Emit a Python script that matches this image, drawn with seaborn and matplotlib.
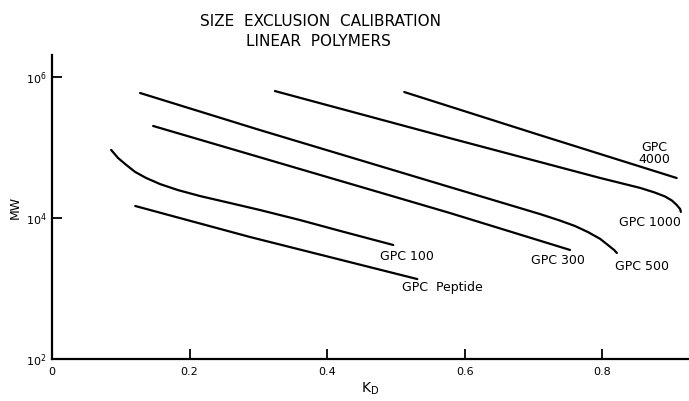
import numpy as np
import pandas as pd
import matplotlib
matplotlib.use('Agg')
import matplotlib.pyplot as plt
import seaborn as sns

# Calibration curves: K_D vs molecular weight
kd_4000 = [0.512, 0.709, 0.908]
mw_4000 = [6.12e5, 1.50e5, 3.69e4]

kd_1000 = [0.324, 0.578, 0.797, 0.855, 0.876, 0.891, 0.901, 0.908, 0.913, 0.914]
mw_1000 = [6.32e5, 1.36e5, 3.69e4, 2.67e4, 2.30e4, 2.02e4, 1.77e4, 1.53e4, 1.34e4, 1.22e4]

kd_500 = [0.128, 0.302, 0.578, 0.709, 0.738, 0.760, 0.779, 0.797, 0.808, 0.817, 0.821]
mw_500 = [5.93e5, 1.77e5, 2.75e4, 1.14e4, 9.22e3, 7.71e3, 6.32e3, 5.04e3, 4.14e3, 3.52e3, 3.19e3]

kd_300 = [0.147, 0.578, 0.753]
mw_300 = [2.02e5, 1.18e4, 3.52e3]

kd_100 = [0.086, 0.096, 0.108, 0.121, 0.137, 0.157, 0.183, 0.215, 0.259, 0.302,
          0.360, 0.419, 0.496]
mw_100 = [9.23e4, 7.10e4, 5.65e4, 4.49e4, 3.69e4, 3.03e4, 2.49e4, 2.05e4, 1.63e4,
          1.30e4, 9.38e3, 6.55e3, 4.14e3]

kd_pep = [0.121, 0.288, 0.531]
mw_pep = [1.48e4, 5.37e3, 1.36e3]

columns = ['GPC 4000', 'GPC 1000', 'GPC 500', 'GPC 300', 'GPC 100', 'GPC Peptide']
label_text = ['GPC\n4000', 'GPC 1000', 'GPC 500', 'GPC 300', 'GPC 100', 'GPC  Peptide']

x_ticks = [0, 0.2, 0.4, 0.6, 0.8]
x_tick_labels = ['0', '0.2', '0.4', '0.6', '0.8']
y_ticks = [1e2, 1e4, 1e6]

# build a long table for seaborn
series = [(kd_4000, mw_4000), (kd_1000, mw_1000), (kd_500, mw_500),
          (kd_300, mw_300), (kd_100, mw_100), (kd_pep, mw_pep)]
frames = []
for name, (kd, mw) in zip(columns, series):
    frames.append(pd.DataFrame({'KD': kd, 'MW': mw, 'column': name}))
df = pd.concat(frames, ignore_index=True)

sns.set_style('ticks')
plt.rcParams['font.family'] = ['DejaVu Sans']
plt.rcParams.update({'text.color': 'black', 'axes.labelcolor': 'black',
                     'xtick.color': 'black', 'ytick.color': 'black',
                     'axes.edgecolor': 'black'})

fig = plt.figure(figsize=(6.89, 4.01), dpi=100)
ax = fig.add_axes([52 / 689, 1 - 359 / 401, 1 - 52 / 689, (359 - 55) / 401])

sns.lineplot(data=df, x='KD', y='MW', units='column', estimator=None, sort=False,
             color='black', linewidth=1.6, ax=ax)

ax.set_yscale('log')
ax.set_xlim(0, (689 - 52) / 688)
ax.set_ylim(1e2, 10 ** 6.312)

ax.set_xticks(x_ticks)
ax.set_xticklabels(x_tick_labels, fontsize=8)
ax.set_yticks(y_ticks)
ax.yaxis.set_minor_locator(matplotlib.ticker.NullLocator())
ax.tick_params(axis='both', direction='in', length=7, width=1.3, labelsize=8, pad=4)
ax.tick_params(axis='x', pad=6)

for side in ['top', 'right']:
    ax.spines[side].set_visible(False)
for side in ['left', 'bottom']:
    ax.spines[side].set_linewidth(1.6)

ax.set_xlabel('K$_\\mathregular{D}$', fontsize=10, labelpad=2)
ax.set_ylabel('MW', fontsize=9, labelpad=3)

# curve labels
label_x = [0.876, 0.869, 0.858, 0.735, 0.516, 0.567]
label_y = [8.1e4, 8.77e3, 2.08e3, 2.53e3, 2.8e3, 1.02e3]
for txt, lx, ly in zip(label_text, label_x, label_y):
    ax.text(lx, ly, txt, fontsize=9, ha='center', va='center', linespacing=0.9)

fig.text(320 / 689, 1 - 22 / 401, 'SIZE  EXCLUSION  CALIBRATION', fontsize=11,
         ha='center', va='center')
fig.text(318 / 689, 1 - 42 / 401, 'LINEAR  POLYMERS', fontsize=11,
         ha='center', va='center')

fig.savefig('out.png', dpi=100)
